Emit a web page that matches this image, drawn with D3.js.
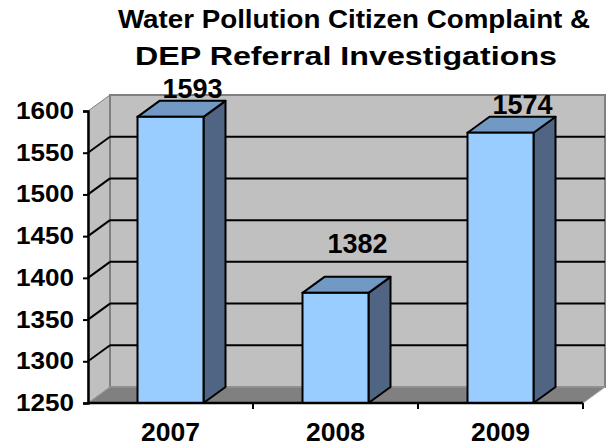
<!DOCTYPE html>
<html>
<head>
<meta charset="utf-8">
<script src="https://cdn.jsdelivr.net/npm/d3@7"></script>
<style>
  body { margin: 0; background: #fff; }
  svg { display: block; font-family: "Liberation Sans", Arial, sans-serif; font-weight: bold; }
</style>
</head>
<body>
<svg id="chart" width="613" height="446"></svg>
<script>
const titleLines = ['Water Pollution Citizen Complaint &', 'DEP Referral Investigations'];
const years = ['2007', '2008', '2009'];
const investigations = [1593, 1382, 1574];
const yTicks = [1250, 1300, 1350, 1400, 1450, 1500, 1550, 1600];

const svg = d3.select('#chart');

// front plane of the 3d box, and the depth shift to the back wall
const plotLeft = 88, plotRight = 583, plotTop = 111, plotBottom = 403;
const dx = 22, dy = -16;
const fontFamily = '"Liberation Sans", Arial, sans-serif';

const x = d3.scaleBand()
  .domain(years)
  .range([plotLeft, plotRight])
  .paddingInner(0.6)
  .paddingOuter(0.3);

const y = d3.scaleLinear()
  .domain([1250, 1600])
  .range([plotBottom, plotTop]);

const pts = p => p.map(d => d.join(',')).join(' ');

// title: the original lines are stretched sideways, the second one more
const titleStyle = [
  { cx: 354, base: 28, size: 25, sx: 1.11 },
  { cx: 346, base: 65, size: 26, sx: 1.24 }
];
svg.append('g').selectAll('text')
  .data(titleLines)
  .enter().append('text')
  .attr('text-anchor', 'middle')
  .attr('transform', (d, i) => `translate(${titleStyle[i].cx},${titleStyle[i].base}) scale(${titleStyle[i].sx},1)`)
  .style('font-size', (d, i) => titleStyle[i].size + 'px')
  .text(d => d);

// walls
svg.append('polygon')
  .attr('points', pts([[plotLeft, plotTop], [plotLeft + dx, plotTop + dy], [plotLeft + dx, plotBottom + dy], [plotLeft, plotBottom]]))
  .attr('fill', '#c0c0c0')
  .attr('stroke', '#808080')
  .attr('stroke-width', 1);

svg.append('rect')
  .attr('x', plotLeft + dx)
  .attr('y', plotTop + dy)
  .attr('width', plotRight - plotLeft)
  .attr('height', plotBottom - plotTop)
  .attr('fill', '#c0c0c0')
  .attr('stroke', '#808080')
  .attr('stroke-width', 2);

// floor
svg.append('polygon')
  .attr('points', pts([[plotLeft, plotBottom], [plotLeft + dx, plotBottom + dy], [plotRight + dx, plotBottom + dy], [plotRight, plotBottom]]))
  .attr('fill', '#808080')
  .attr('stroke', '#a0a0a0')
  .attr('stroke-width', 1);

// gridlines on back and side walls
const grid = svg.append('g');
yTicks.filter(t => t > 1250 && t < 1600).forEach(t => {
  grid.append('line')
    .attr('x1', plotLeft + dx).attr('x2', plotRight + dx)
    .attr('y1', y(t) + dy).attr('y2', y(t) + dy)
    .attr('stroke', '#000').attr('stroke-width', 2);
  grid.append('line')
    .attr('x1', plotLeft).attr('x2', plotLeft + dx)
    .attr('y1', y(t)).attr('y2', y(t) + dy)
    .attr('stroke', '#000').attr('stroke-width', 2);
});

// bars
const bars = svg.append('g').selectAll('g')
  .data(years.map((yr, i) => ({ yr, v: investigations[i] })))
  .enter().append('g');

bars.append('polygon') // side
  .attr('points', d => {
    const x1 = x(d.yr) + x.bandwidth();
    return pts([[x1, y(d.v)], [x1 + dx, y(d.v) + dy], [x1 + dx, plotBottom + dy], [x1, plotBottom]]);
  })
  .attr('fill', '#4f6583')
  .attr('stroke', '#000').attr('stroke-width', 2).attr('stroke-linejoin', 'round');

bars.append('polygon') // top
  .attr('points', d => {
    const x0 = x(d.yr), x1 = x0 + x.bandwidth(), yv = y(d.v);
    return pts([[x0, yv], [x0 + dx, yv + dy], [x1 + dx, yv + dy], [x1, yv]]);
  })
  .attr('fill', '#7199c3')
  .attr('stroke', '#000').attr('stroke-width', 2).attr('stroke-linejoin', 'round');

bars.append('rect') // front
  .attr('x', d => x(d.yr))
  .attr('y', d => y(d.v))
  .attr('width', x.bandwidth())
  .attr('height', d => plotBottom - y(d.v))
  .attr('fill', '#99ccff')
  .attr('stroke', '#000').attr('stroke-width', 2);

// value labels
bars.append('text')
  .attr('x', d => x(d.yr) + x.bandwidth() / 2 + dx)
  .attr('y', d => {
    const backTop = y(d.v) + dy;
    return backTop - 24 < 100 ? backTop - 3 : backTop - 24;
  })
  .attr('text-anchor', 'middle')
  .style('font-size', '27px')
  .text(d => d.v);

// y axis
const yAxis = svg.append('g')
  .attr('transform', `translate(${plotLeft},0)`)
  .call(d3.axisLeft(y).tickValues(yTicks).tickSize(5).tickFormat(d3.format('d')));
yAxis.select('.domain').attr('stroke', '#000').attr('stroke-width', 2.5);
yAxis.selectAll('.tick line').attr('stroke', '#000').attr('stroke-width', 2);
yAxis.selectAll('text')
  .attr('x', 0)
  .attr('transform', 'translate(-14,0) scale(1.11,1)')
  .style('font-size', '23.5px')
  .style('font-weight', 'bold')
  .style('font-family', fontFamily)
  .attr('fill', '#000');

// x axis
const xAxis = svg.append('g')
  .attr('transform', `translate(0,${plotBottom})`)
  .call(d3.axisBottom(x).tickSize(0).tickPadding(19));
xAxis.select('.domain').attr('d', `M${plotLeft},0H${plotRight}`).attr('stroke', '#000').attr('stroke-width', 2.5);
xAxis.selectAll('text')
  .style('font-size', '26.5px')
  .style('font-weight', 'bold')
  .style('font-family', fontFamily)
  .attr('fill', '#000');

// category boundary ticks
xAxis.selectAll('.boundary')
  .data(years)
  .enter().append('line')
  .attr('x1', d => x(d) + x.bandwidth() / 2 + x.step() / 2)
  .attr('x2', d => x(d) + x.bandwidth() / 2 + x.step() / 2)
  .attr('y1', 0).attr('y2', 6)
  .attr('stroke', '#000').attr('stroke-width', 2);
</script>
</body>
</html>
